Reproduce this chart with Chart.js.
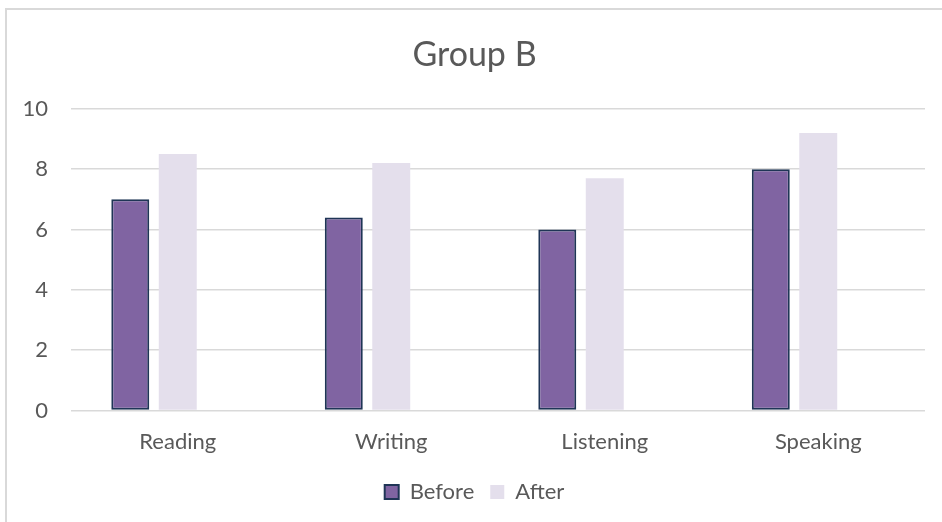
<!DOCTYPE html>
<html>
<head>
<meta charset="utf-8">
<title>Group B</title>
<script src="https://cdn.jsdelivr.net/npm/chart.js@4.4.1/dist/chart.umd.min.js"></script>
<style>
    html, body {
        margin: 0;
        padding: 0;
        background: #ffffff;
        overflow: hidden;
    }
    .frame {
        position: absolute;
        left: 5px;
        top: 8px;
        width: 1000px;
        height: 600px;
        border-top: 2px solid #d9d9d9;
        border-left: 2px solid #d9d9d9;
    }
    .chart-box {
        position: absolute;
        left: 0;
        top: 0;
        width: 942px;
        height: 522px;
    }
</style>
</head>
<body>
<div class="frame"></div>
<div class="chart-box">
    <canvas id="score-chart" width="942" height="522"></canvas>
</div>
<script>
// Scores per skill, before and after
const categories = ['Reading', 'Writing', 'Listening', 'Speaking'];
const beforeScores = [7, 6.4, 6, 8];
const afterScores = [8.5, 8.2, 7.7, 9.2];
// Empty third series: keeps a free slot to the right of each pair
const emptySeries = [null, null, null, null];
const yTicks = [0, 2, 4, 6, 8, 10];

const textColor = '#595959';
const gridColor = '#d9d9d9';
const fontFamily = 'Lato, "Open Sans", sans-serif';

Chart.defaults.font.family = fontFamily;
Chart.defaults.color = textColor;

const ctx = document.getElementById('score-chart').getContext('2d');

new Chart(ctx, {
    type: 'bar',
    data: {
        labels: categories,
        datasets: [
            {
                label: 'Before',
                data: beforeScores,
                backgroundColor: '#8064a2',
                borderColor: '#1f3556',
                borderWidth: 2,
                borderSkipped: false
            },
            {
                label: 'After',
                data: afterScores,
                backgroundColor: '#e4dfec',
                borderWidth: 0
            },
            {
                label: '',
                data: emptySeries,
                backgroundColor: 'rgba(0,0,0,0)'
            }
        ]
    },
    options: {
        responsive: false,
        animation: false,
        devicePixelRatio: 1,
        categoryPercentage: 0.667,
        barPercentage: 0.8,
        layout: {
            // left padding nudges the centre of title and legend to the right
            padding: { left: 24, right: 17, top: 0, bottom: 9 }
        },
        plugins: {
            title: {
                display: true,
                text: 'Group B',
                color: textColor,
                font: { size: 34, weight: 'normal' },
                padding: { top: 35, bottom: 33 }
            },
            legend: {
                position: 'bottom',
                labels: {
                    color: textColor,
                    font: { size: 22 },
                    boxWidth: 14,
                    boxHeight: 14,
                    padding: 16,
                    filter: item => item.text !== ''
                }
            },
            tooltip: { enabled: false }
        },
        scales: {
            x: {
                grid: { display: false },
                border: { display: false },
                ticks: {
                    color: textColor,
                    font: { size: 22 },
                    padding: 10
                }
            },
            y: {
                min: yTicks[0],
                max: yTicks[yTicks.length - 1],
                afterBuildTicks: axis => {
                    axis.ticks = yTicks.map(v => ({ value: v }));
                },
                afterFit: axis => {
                    axis.width = 47;
                },
                grid: {
                    color: gridColor,
                    lineWidth: 1.5,
                    drawTicks: false
                },
                border: { display: false },
                ticks: {
                    color: textColor,
                    font: { size: 22 },
                    padding: 23
                }
            }
        }
    }
});
</script>
</body>
</html>
